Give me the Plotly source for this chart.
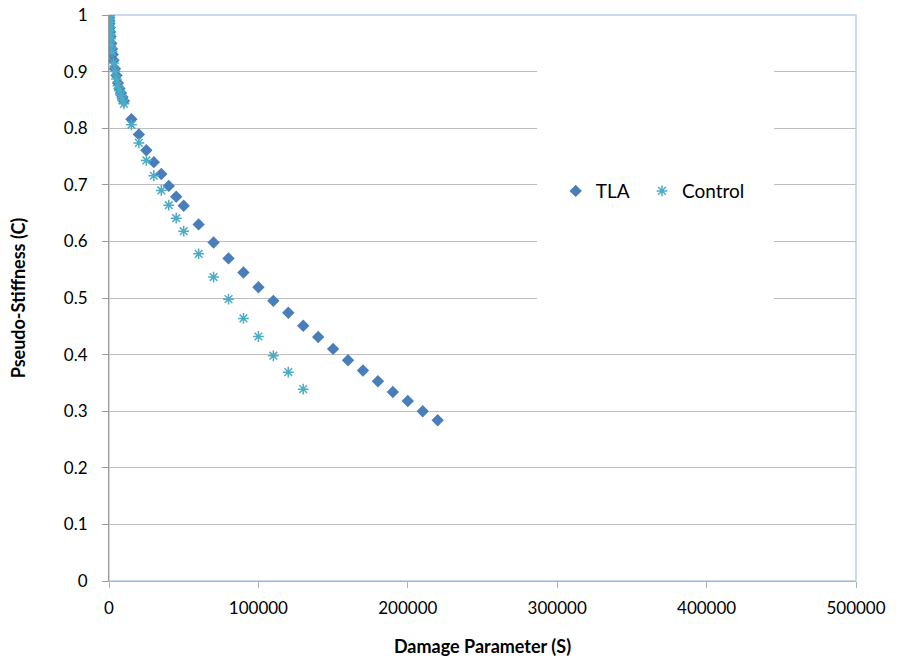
import plotly.graph_objects as go

# Damage parameter S and pseudo-stiffness C for each mixture
tla_s = [0, 100, 200, 300, 500, 700, 1000, 1500, 2000, 2500, 3000, 4000, 5000,
         6000, 7000, 8000, 9000, 10000, 15000, 20000, 25000, 30000, 35000,
         40000, 45000, 50000, 60000, 70000, 80000, 90000, 100000, 110000,
         120000, 130000, 140000, 150000, 160000, 170000, 180000, 190000,
         200000, 210000, 220000]
tla_c = [1.0, 0.995, 0.99, 0.985, 0.978, 0.97, 0.962, 0.95, 0.94, 0.93, 0.92,
         0.905, 0.893, 0.88, 0.87, 0.862, 0.855, 0.848, 0.816, 0.789, 0.761,
         0.740, 0.719, 0.698, 0.679, 0.663, 0.630, 0.598, 0.570, 0.545, 0.519,
         0.495, 0.474, 0.451, 0.431, 0.410, 0.390, 0.372, 0.353, 0.334, 0.318,
         0.300, 0.284]

ctrl_s = [0, 50, 100, 200, 300, 400, 500, 700, 1000, 1500, 2000, 3000, 4000,
          5000, 6000, 7000, 8000, 9000, 10000, 15000, 20000, 25000, 30000,
          35000, 40000, 45000, 50000, 60000, 70000, 80000, 90000, 100000,
          110000, 120000, 130000]
ctrl_c = [1.0, 0.997, 0.993, 0.988, 0.983, 0.978, 0.973, 0.966, 0.958, 0.947,
          0.935, 0.915, 0.9, 0.887, 0.875, 0.866, 0.858, 0.85, 0.843, 0.806,
          0.774, 0.743, 0.716, 0.690, 0.664, 0.641, 0.618, 0.578, 0.537,
          0.498, 0.464, 0.432, 0.398, 0.369, 0.339]

x_ticks = [0, 100000, 200000, 300000, 400000, 500000]
x_labels = ["0", "100000", "200000", "300000", "400000", "500000"]
y_ticks = [0, 0.1, 0.2, 0.3, 0.4, 0.5, 0.6, 0.7, 0.8, 0.9, 1]
y_labels = ["0", "0.1", "0.2", "0.3", "0.4", "0.5", "0.6", "0.7", "0.8",
            "0.9", "1"]

FONT = "Lato, Liberation Sans, sans-serif"

fig = go.Figure()
fig.add_trace(go.Scatter(
    x=tla_s, y=tla_c, mode="markers", name="TLA", legend="legend",
    marker=dict(symbol="diamond", size=9.5, color="#4a7ebb",
                line=dict(width=0)),
))
fig.add_trace(go.Scatter(
    x=ctrl_s, y=ctrl_c, mode="markers", name="Control", legend="legend2",
    marker=dict(symbol="asterisk-open", size=9, color="#4bacc6",
                line=dict(width=1.5, color="#4bacc6")),
))

# light blue frame around the plotting area
fig.add_shape(type="rect", xref="paper", yref="paper", x0=0, x1=1, y0=0, y1=1,
              line=dict(color="#b9cde5", width=1.5), layer="below")
# white panel behind the legend
fig.add_shape(type="rect", xref="paper", yref="paper",
              x0=0.573, x1=0.89, y0=0.485, y1=0.917,
              fillcolor="white", line=dict(width=0), layer="above")

legend_common = dict(orientation="h", y=0.689, xanchor="left",
                     yanchor="middle", bgcolor="rgba(0,0,0,0)",
                     font=dict(family=FONT, size=19), itemwidth=30)

fig.update_layout(
    width=899, height=665,
    margin=dict(l=109, r=43, t=15, b=84, autoexpand=False),
    paper_bgcolor="white", plot_bgcolor="white",
    font=dict(family=FONT, size=17, color="#000000"),
    showlegend=True,
    legend=dict(x=0.598, **legend_common),
    legend2=dict(x=0.7135, **legend_common),
    xaxis=dict(
        range=[0, 500000], tickvals=x_ticks, ticktext=x_labels,
        showgrid=False, zeroline=False, showline=True, automargin=False,
        linecolor="#a9b4c2", linewidth=1, ticks="outside", ticklen=6,
        tickcolor="#a9b4c2", ticklabelstandoff=6,
        title=dict(text="<b>Damage Parameter (S)</b>", standoff=22,
                   font=dict(family=FONT, size=18)),
    ),
    yaxis=dict(
        range=[0, 1], tickvals=y_ticks, ticktext=y_labels,
        showgrid=True, gridcolor="#bdbdbd", gridwidth=1, automargin=False,
        zeroline=False, showline=True, linecolor="#9a9a9a", linewidth=1,
        ticks="outside", ticklen=6, tickcolor="#9a9a9a",
        ticklabelstandoff=11,
        title=dict(text="<b>Pseudo-Stiffness (C)</b>", standoff=33,
                   font=dict(family=FONT, size=18)),
    ),
)

fig.write_html("out.html")
